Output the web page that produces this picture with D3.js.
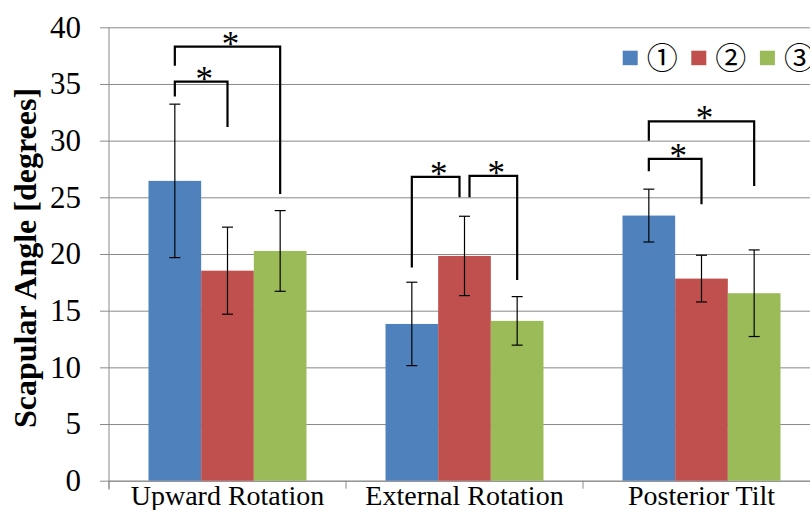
<!DOCTYPE html>
<meta charset="utf-8">
<style>
body { margin: 0; background: #fff; }
svg { display: block; }
.grid line { stroke: #8a8a8a; stroke-width: 1px; }
.grid path { display: none; }
</style>
<svg width="810" height="510"></svg>
<script src="https://cdn.jsdelivr.net/npm/d3@7"></script>
<script>

// chart values
var categories = ["Upward Rotation", "External Rotation", "Posterior Tilt"];
var series = ["①", "②", "③"];
var colors = ["#4f81bd", "#c0504d", "#9bbb59"];
var means = [
  [26.45, 18.53, 20.27],
  [13.83, 19.83, 14.1],
  [23.39, 17.83, 16.54]
];
var sds = [
  [6.77, 3.84, 3.56],
  [3.68, 3.5, 2.14],
  [2.33, 2.06, 3.82]
];
var yTicks = [0, 5, 10, 15, 20, 25, 30, 35, 40];
// significance brackets: category, from series, to series, top, left leg end, right leg end, x shift of each end
var brackets = [
  [0, 0, 2, 38.3, 36.6, 25.3, 0, 0],
  [0, 0, 1, 35.2, 33.9, 31.2, 0, 0],
  [1, 0, 1, 26.8, 18.8, 25.0, 0, -5],
  [1, 1, 2, 26.9, 25.0, 17.7, 5, 0],
  [2, 0, 2, 31.7, 30.0, 26.0, 0, 0],
  [2, 0, 1, 28.4, 27.3, 24.4, 0, 0]
];

var svg = d3.select("svg");
var mLeft = 109, mRight = 820, mTop = 27.3, mBottom = 480.7;

var x0 = d3.scaleBand().domain(categories).range([mLeft, mRight]).padding(0);
var x1 = d3.scaleBand().domain(d3.range(series.length)).range([0, x0.bandwidth()]).paddingInner(0).paddingOuter(0.75);
var y = d3.scaleLinear().domain([0, 40]).range([mBottom, mTop]);

// gridlines
svg.append("g").attr("class", "grid")
  .attr("transform", "translate(" + mLeft + ",0)")
  .call(d3.axisLeft(y).tickValues(yTicks).tickSize(-(mRight - mLeft)).tickFormat(""));

// y axis
var ya = svg.append("g")
  .attr("transform", "translate(" + mLeft + ",0)")
  .call(d3.axisLeft(y).tickValues(yTicks).tickSize(9).tickPadding(19).tickSizeOuter(0));
ya.selectAll("line").attr("stroke", "#8a8a8a");
ya.select(".domain").remove();
ya.selectAll("text")
  .style("font-family", "Liberation Serif")
  .style("font-size", "31px")
  .attr("fill", "#000");
svg.append("line").attr("x1", mLeft).attr("x2", mLeft).attr("y1", mTop).attr("y2", mBottom + 9).attr("stroke", "#8a8a8a");

// x axis
var xa = svg.append("g")
  .attr("transform", "translate(0," + mBottom + ")")
  .call(d3.axisBottom(x0).tickSize(0).tickPadding(0));
xa.select(".domain").attr("stroke", "#8a8a8a");
xa.selectAll("text").attr("dy", null).attr("y", 24.3)
  .style("font-family", "Liberation Serif")
  .style("font-size", "28px")
  .attr("fill", "#000");
svg.selectAll(".xtick").data(categories.concat([null])).enter().append("line")
  .attr("x1", function(d) { return d ? x0(d) : mRight; })
  .attr("x2", function(d) { return d ? x0(d) : mRight; })
  .attr("y1", mBottom).attr("y2", mBottom + 8)
  .attr("stroke", "#8a8a8a");

// bars
var groups = svg.selectAll(".cat").data(categories).enter().append("g")
  .attr("transform", function(d) { return "translate(" + x0(d) + ",0)"; });

function rows(d, i) { return means[i].map(function(v, j) { return {v: v, sd: sds[i][j], s: j}; }); }

groups.selectAll("rect").data(rows)
  .enter().append("rect")
  .attr("x", function(d) { return x1(d.s); })
  .attr("width", x1.bandwidth())
  .attr("y", function(d) { return y(d.v); })
  .attr("height", function(d) { return mBottom - y(d.v); })
  .attr("fill", function(d) { return colors[d.s]; });

// error bars
var eb = groups.selectAll(".err").data(rows)
  .enter().append("g").attr("stroke", "#000").attr("stroke-width", 1.2);
eb.append("line")
  .attr("x1", function(d) { return x1(d.s) + x1.bandwidth() / 2; })
  .attr("x2", function(d) { return x1(d.s) + x1.bandwidth() / 2; })
  .attr("y1", function(d) { return y(d.v + d.sd); })
  .attr("y2", function(d) { return y(d.v - d.sd); });
[1, -1].forEach(function(k) {
  eb.append("line")
    .attr("x1", function(d) { return x1(d.s) + x1.bandwidth() / 2 - 5.5; })
    .attr("x2", function(d) { return x1(d.s) + x1.bandwidth() / 2 + 5.5; })
    .attr("y1", function(d) { return y(d.v + k * d.sd); })
    .attr("y2", function(d) { return y(d.v + k * d.sd); });
});

// significance brackets
function cx(c, s) { return x0(categories[c]) + x1(s) + x1.bandwidth() / 2; }
var br = svg.selectAll(".br").data(brackets).enter().append("g");
br.append("path")
  .attr("fill", "none").attr("stroke", "#000").attr("stroke-width", 2.2)
  .attr("d", function(b) {
    var xa = cx(b[0], b[1]) + b[6], xb = cx(b[0], b[2]) + b[7];
    return "M" + xa + "," + y(b[4]) + "V" + y(b[3]) + "H" + xb + "V" + y(b[5]);
  });
br.append("text")
  .attr("x", function(b) { return (cx(b[0], b[1]) + b[6] + cx(b[0], b[2]) + b[7]) / 2 + 3; })
  .attr("y", function(b) { return y(b[3]) + 9; })
  .attr("text-anchor", "middle")
  .style("font-family", "Liberation Serif")
  .style("font-size", "35px")
  .text("*");

// y title
svg.append("text")
  .attr("transform", "translate(35.5,258) rotate(-90)")
  .attr("text-anchor", "middle")
  .style("font-family", "Liberation Serif")
  .style("font-weight", "bold")
  .style("font-size", "32px")
  .text("Scapular Angle [degrees]");

// legend
var lg = svg.selectAll(".lg").data(series).enter().append("g")
  .attr("transform", function(d, i) { return "translate(" + (622.7 + i * 68.6) + ",0)"; });
lg.append("rect").attr("x", 0).attr("y", 50.7).attr("width", 15).attr("height", 14.5)
  .attr("fill", function(d, i) { return colors[i]; });
lg.append("text").attr("x", 24).attr("y", 69)
  .style("font-family", "Noto Sans CJK JP")
  .style("font-size", "31px")
  .text(function(d) { return d; });

</script>
